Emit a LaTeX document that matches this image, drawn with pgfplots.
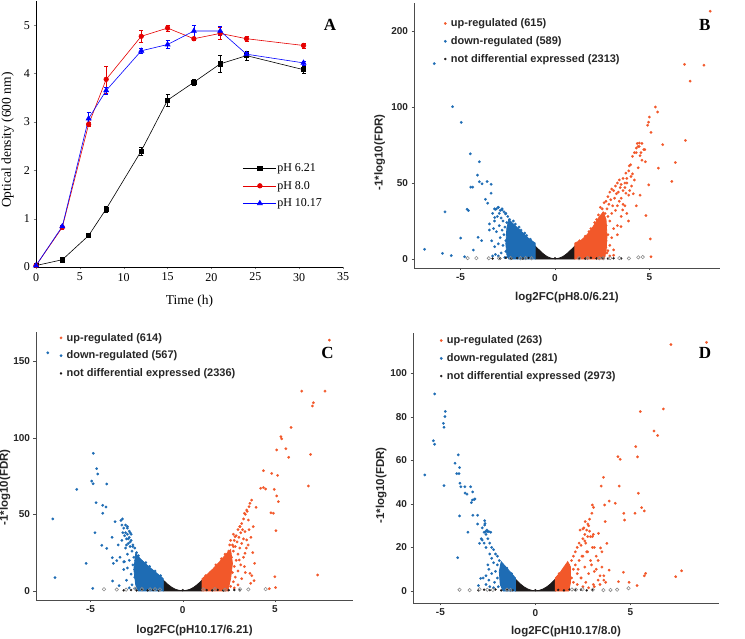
\documentclass[border=0pt]{standalone}
\usepackage{fontspec}
\setmainfont{Liberation Serif}
\newfontfamily\nsb{Liberation Sans}
\usepackage{pgfplots}
\pgfplotsset{compat=1.18}
\definecolor{upc}{RGB}{242,88,42}
\definecolor{dnc}{RGB}{30,108,180}
\definecolor{nsc}{RGB}{28,24,24}
\definecolor{grc}{RGB}{140,140,140}
\newcommand{\vt}{\nsb\bfseries\fontsize{10}{11}\selectfont}
\newcommand{\vl}{\nsb\bfseries\fontsize{11.5}{12}\selectfont}
\newcommand{\vg}{\nsb\bfseries\fontsize{11}{12}\selectfont}
\pgfplotsset{
 volc/.style={scale only axis, axis x line*=bottom, axis y line*=left,
  axis line style={draw=black!70, line width=0.8pt}, tick style={draw=black!70},
  tick align=outside, major tick length=2.5pt, xtick={-5,0,5},
  tick label style={font=\vt, text=black!85},
  label style={font=\vl, text=black!85},
  /pgf/number format/assume math mode=true,
  legend style={draw=none, fill=none, font=\vg, text=black!85, anchor=north west,
   inner sep=0pt, row sep=6.3pt, nodes={inner sep=1pt, font=\vg}},
  legend image code/.code={\path (0cm,0cm) (0.26cm,0cm); \draw[#1] plot coordinates {(0.1cm,0cm)};},
  legend cell align=left},
 up/.style={upc, only marks, mark=*, mark size=1.3pt, line width=0.2pt},
 dn/.style={dnc, only marks, mark=*, mark size=1.3pt, line width=0.2pt},
 ns/.style={nsc, only marks, mark=*, mark size=1.1pt, line width=0.2pt},
 gr/.style={grc, only marks, mark=o, mark size=1.7pt, line width=0.6pt, forget plot},
 core/.style={draw=#1, fill=#1, line width=0.8pt, forget plot},
}
\begin{document}
\begin{tikzpicture}
\path[use as bounding box] (0pt,0pt) rectangle (745pt,639pt);
% ---------------- Panel A ----------------
\begin{axis}[at={(36pt,372pt)}, anchor=south west, scale only axis, width=307pt, height=266pt,
  xmin=0, xmax=35, ymin=0, ymax=5.5, xtick={0,5,...,35}, ytick={0,1,...,5},
  axis x line*=bottom, axis y line*=left, axis line style={line width=0.7pt},
  tick align=outside, major tick length=2.5pt,
  tick label style={font=\fontsize{12}{12}\selectfont},
  /pgf/number format/assume math mode=true,
  xlabel={Time (h)}, ylabel={Optical density (600 nm)},
  label style={font=\fontsize{13.5}{14}\selectfont},
  xlabel style={at={(axis description cs:0.5,-0.128)}, anchor=center},
  ylabel style={at={(axis description cs:-0.092,0.477)}, anchor=center},
  legend style={draw=none, fill=none, at={(0.672,0.395)}, anchor=north west,
    font=\fontsize{12}{12}\selectfont, row sep=5pt, inner sep=0pt, nodes={inner sep=1.5pt}},
  legend cell align=left,
  legend image code/.code={\draw[#1, mark repeat=2, mark phase=2] plot coordinates {(0cm,0cm) (0.6cm,0cm) (1.15cm,0cm)};},
  error bars/error bar style={line width=0.5pt},
  error bars/error mark options={rotate=90, mark size=2pt, line width=0.5pt}]
\addplot[black, line width=0.6pt, mark=square*, mark size=2.1pt,
  error bars/.cd, y dir=both, y explicit] coordinates {
 (0,0.03) +- (0,0.01) (3,0.15) +- (0,0.02) (6,0.65) +- (0,0.03) (8,1.20) +- (0,0.06)
 (12,2.40) +- (0,0.08) (15,3.45) +- (0,0.13) (18,3.82) +- (0,0.06) (21,4.20) +- (0,0.18)
 (24,4.37) +- (0,0.10) (30.5,4.08) +- (0,0.07)};
\addlegendentry{pH 6.21}
\addplot[red!90!black, line width=0.6pt, mark=*, mark size=2.3pt,
  error bars/.cd, y dir=both, y explicit] coordinates {
 (0,0.03) +- (0,0.01) (3,0.82) +- (0,0.03) (6,2.95) +- (0,0.05) (8,3.88) +- (0,0.28)
 (12,4.77) +- (0,0.12) (15,4.94) +- (0,0.06) (18,4.72) +- (0,0.04) (21,4.83) +- (0,0.13)
 (24,4.72) +- (0,0.06) (30.5,4.58) +- (0,0.05)};
\addlegendentry{pH 8.0}
\addplot[blue, line width=0.6pt, mark=triangle*, mark size=2.9pt,
  error bars/.cd, y dir=both, y explicit] coordinates {
 (0,0.03) +- (0,0.01) (3,0.84) +- (0,0.03) (6,3.07) +- (0,0.12) (8,3.65) +- (0,0.07)
 (12,4.47) +- (0,0.06) (15,4.60) +- (0,0.08) (18,4.88) +- (0,0.12) (21,4.88) +- (0,0.09)
 (24,4.40) +- (0,0.05) (30.5,4.22) +- (0,0.04)};
\addlegendentry{pH 10.17}
\node[font=\bfseries\fontsize{17}{17}\selectfont] at (rel axis cs:0.958,0.91) {A};
\end{axis}
% ---------------- Panel B ----------------
\begin{axis}[volc, at={(414pt,371pt)}, anchor=south west, width=306pt, height=265pt,
  xmin=-7.46, xmax=8.73, ymin=-5.9, ymax=236.8,
  y coord trafo/.code={\pgfmathparse{#1>100 ? 100+(#1-100)/2 : #1}},
  ytick={0,50,100,200}, yticklabels={0,50,100,200},
  xlabel={log2FC(pH8.0/6.21)}, ylabel={-1*log10(FDR)},
  xlabel style={at={(axis description cs:0.5,-0.113)}, anchor=center},
  ylabel style={at={(axis description cs:-0.112,0.436)}, anchor=center},
  legend style={at={(0.092,0.945)}}]
\addplot[core=nsc] coordinates {(-1.05,0)(-1.05,8.5)(-0.8,5.5)(-0.6,3.2)(-0.4,1.5)(-0.2,0.5)(0,0.2)(0.2,0.5)(0.4,1.5)(0.6,3.2)(0.8,5.5)(1.05,8.5)(1.05,0)} -- cycle;
\addplot[core=dnc] coordinates {(-1.05,0)(-1.05,10.5)(-1.4,13.5)(-1.85,19)(-2.2,23)(-2.45,26)(-2.55,20)(-2.6,10)(-2.55,3)(-2.45,0)} -- cycle;
\addplot[core=upc] coordinates {(1.05,0)(1.05,10.5)(1.4,12.5)(1.7,16)(2.0,21)(2.3,27)(2.55,31)(2.7,26)(2.75,15)(2.7,5)(2.6,0)} -- cycle;
\addplot[up] coordinates {
 (8.21,226)(6.85,156)(7.88,155)(7.15,134)(5.31,100)(5.43,96.7)(4.99,93.4)(4.95,90)(4.9,88)
 (5.08,83.3)(5.7,75.2)(6.9,78)(4.46,76.3)(4.6,76)(4.4,74)(4.75,72)(4.55,70)(4.3,70)(4.1,67.5)
 (3.93,61.3)(4.78,64)(5.47,59.8)(6.37,63.5)(6.18,51)(4.96,48.8)(3.75,56.5)(4.02,54.3)
 (3.75,43.3)(4.14,42.9)(3.89,25)(3.58,32.3)(3.49,21.3)(4.81,28.6)(5.04,13.2)(5.08,1.5)
 (2.69,7.7)(2.8,5.5)
 (3.9,58)(4.0,62)(4.1,56)(4.2,70)(4.3,73)(4.35,76)(4.45,74)(4.5,68)(4.6,65)(4.7,72)
 (4.4,60)(3.8,53)(3.7,50)(4.05,48)(4.2,52)(3.95,45)(4.3,35)(4.5,42)(3.6,36)(3.8,30)
 (2.4,34)(2.6,37)(2.7,38)(2.8,41)(2.9,44)(3.0,46)(3.1,45)(3.2,48)(3.3,50)(3.4,52)(3.5,49)
 (3.6,53)(2.65,30)(2.75,33)(2.85,36)(2.95,39)(3.05,35)(3.15,40)(3.25,43)(3.35,44)(3.45,47)
 (2.7,22)(2.8,28)(2.9,25)(3.0,30)(3.1,20)(3.2,32)(3.3,35)(3.4,38)(3.5,40)(2.7,12)(2.8,16)
 (2.9,9)(3.0,14)(3.1,6)(3.3,22)(3.5,28)(3.6,45)(3.7,47)(3.8,50)(2.65,8)(2.75,4)(2.9,2)
 (3.1,2.5)(2.6,2)(3.3,16)(3.7,35)(3.9,42)(2.3,29)(2.1,24)(1.9,20)(1.6,15)(1.3,12)(2.5,33)
 (2.55,20)(2.45,28)(2.65,14)(2.2,26)(1.8,18)};
\addlegendentry{\vg up-regulated (615)}
\addplot[dn] coordinates {
 (-6.39,157)(-5.42,100.4)(-4.96,89.9)(-4.48,69.2)(-4.0,64)(-4.1,55.2)(-4.0,50.8)(-3.86,49.5)
 (-3.59,51)(-3.38,49.2)(-3.38,43.3)(-3.68,39.3)(-3.56,36.7)(-4.46,47.3)(-4.35,47.3)
 (-4.65,32.7)(-4.58,31.9)(-5.82,31)(-4.99,13.8)(-4.07,14.3)(-3.88,12.1)(-3.47,23.1)
 (-3.47,19.1)(-4.32,5.9)(-4.78,1.5)(-5.49,2.2)(-5.95,3.7)(-6.9,6.4)(-3.19,8.1)(-3.15,32.7)
 (-3.0,34)(-3.19,27.3)(-2.62,29.7)(-2.8,32.3)
 (-2.4,26)(-2.5,28)(-2.6,30)(-2.7,31)(-2.8,33)(-2.9,32)(-3.0,34)(-3.1,33)(-2.55,24)
 (-2.65,21)(-2.75,25)(-2.85,27)(-2.95,22)(-3.05,28)(-2.45,18)(-2.6,12)(-2.7,16)(-2.8,19)
 (-2.9,14)(-3.0,10)(-3.1,18)(-3.2,25)(-2.5,8)(-2.6,5)(-2.75,9)(-2.85,4)(-3.0,2)(-3.15,3)
 (-3.3,2)(-2.4,2)(-2.5,1.5)(-2.65,1)(-2.3,12)(-2.2,25)(-2.1,23)(-1.9,21)(-1.6,17)
 (-2.35,20)(-3.3,30)(-3.25,20)(-3.35,12)(-2.95,30)(-2.2,14)(-2.45,4)(-3.2,33)(-1.3,13)
 (-1.5,15.5)(-1.8,19)};
\addlegendentry{\vg down-regulated (589)}
\addplot[ns] coordinates {
 (-3.3,0.3)(-2.9,0.4)(-2.6,0.8)(-2.3,0.3)(-2.0,0.6)(-1.7,0.3)(-1.4,0.7)(1.3,0.5)(1.6,0.3)
 (1.9,0.8)(2.2,0.4)(2.5,0.6)(2.8,0.3)(3.1,0.5)(3.5,0.4)(0,0.5)};
\addlegendentry{\vg not differential expressed (2313)}
\addplot[gr] coordinates {
 (-4.62,0.6)(-4.16,0.6)(-3.5,0.5)(-2.96,0.5)(-2.35,0.6)(-1.82,0.5)(-1.56,0.6)(-1.24,0.5)
 (1.27,0.5)(1.72,0.6)(2.34,0.5)(2.55,0.5)(2.92,0.6)(3.4,0.6)(3.91,0.4)(4.41,1.1)(4.64,1.3)};
\node[font=\bfseries\fontsize{17}{17}\selectfont] at (rel axis cs:0.95,0.917) {B};
\end{axis}
% ---------------- Panel C ----------------
\begin{axis}[volc, at={(36pt,39pt)}, anchor=south west, width=317pt, height=268pt,
  xmin=-7.96, xmax=9.24, ymin=-5.9, ymax=169, ytick={0,50,100,150},
  xlabel={log2FC(pH10.17/6.21)}, ylabel={-1*log10(FDR)},
  xlabel style={at={(axis description cs:0.5,-0.115)}, anchor=center},
  ylabel style={at={(axis description cs:-0.098,0.42)}, anchor=center},
  legend style={at={(0.069,1.0)}}]
\addplot[core=nsc] coordinates {(-1.05,0)(-1.05,7)(-0.8,4.2)(-0.6,2.4)(-0.4,1.1)(-0.2,0.4)(0,0.2)(0.2,0.4)(0.4,1.1)(0.6,2.4)(0.8,4.2)(1.05,7)(1.05,0)} -- cycle;
\addplot[core=dnc] coordinates {(-1.05,0)(-1.05,8)(-1.3,10.5)(-1.6,13.5)(-1.95,17)(-2.3,21)(-2.55,24.5)(-2.65,14)(-2.55,4)(-2.4,0)} -- cycle;
\addplot[core=upc] coordinates {(1.05,0)(1.05,8)(1.35,11)(1.65,14.5)(2.0,19)(2.35,24)(2.6,27)(2.7,18)(2.6,8)(2.45,0)} -- cycle;
\addplot[up] coordinates {
 (7.96,163.7)(6.46,130.4)(7.72,130.4)(7.09,122.8)(7.04,120.7)(5.88,106.7)(5.33,100.7)
 (5.37,99.3)(5.1,92)(5.6,92.8)(5.75,87.2)(6.94,89.1)(4.38,78.5)(4.83,76.7)(5.15,75.4)
 (4.23,67)(4.38,67.5)(4.5,66.5)(4.97,66.3)(6.82,68.5)(5.1,62)(5.19,58.3)(4.79,51)(4.92,50.7)
 (5.06,39.3)(7.32,10.4)(5.0,9.3)(5.04,2.2)(4.7,1.5)
 (3.74,59.3)(3.65,57.2)(3.98,54.6)(3.47,52.8)(3.35,50.7)(3.56,46.3)(3.11,42)(3.38,38.7)
 (2.84,35.4)(3.47,33.3)(3.83,42)(2.75,28.9)(3.38,24.6)(3.07,20.2)(3.65,11.5)(3.35,15.9)
 (3.69,5)(3.87,6.7)
 (2.7,30)(2.8,33)(2.9,36)(3.0,40)(3.1,42)(3.2,44)(3.3,47)(3.4,50)(3.5,52)(3.6,55)(2.65,22)
 (2.75,26)(2.85,29)(2.95,32)(3.05,35)(3.15,38)(3.25,40)(2.7,12)(2.8,16)(2.9,20)(3.0,24)
 (3.1,28)(3.2,31)(3.3,34)(2.75,6)(2.85,9)(3.0,13)(3.15,17)(3.3,22)(3.45,28)(2.6,3)(2.8,2)
 (3.0,4)(3.2,8)(3.4,12)(2.5,26)(2.3,24)(2.1,21)(1.8,17)(1.5,12)(1.25,10)(3.6,40)(3.7,35)
 (3.55,30)(3.8,25)(3.9,18)(3.75,10)(2.55,30)(2.45,20)(2.75,37)(2.6,33)};
\addlegendentry{\vg up-regulated (614)}
\addplot[dn] coordinates {
 (-7.32,155.4)(-7.05,47)(-6.93,8.7)(-5.75,66.3)(-5.24,18)(-4.85,89.8)(-4.67,79.8)(-4.61,76.3)
 (-4.94,71.7)(-4.86,70)(-4.12,69.8)(-4.7,57.6)(-4.34,55.9)(-4.16,54.8)(-4.34,50.7)(-4.76,38)
 (-4.39,29.8)(-4.12,27.8)(-4.88,1.7)(-3.67,45.2)(-3.83,35)(-3.82,21.7)(-3.76,18)(-3.58,19.8)
 (-3.16,19.1)(-3.8,6.5)(-3.45,3.5)(-3.27,47)(-3.1,43)(-3.0,41)(-2.9,39)(-2.8,37)(-3.1,38)
 (-2.95,34)(-2.85,32)(-3.05,30)(-2.71,28.9)
 (-2.5,25)(-2.6,28)(-2.7,30)(-2.8,33)(-2.9,35)(-3.0,37)(-3.2,41)(-3.3,43)(-3.35,46)
 (-2.55,20)(-2.65,22)(-2.75,26)(-2.85,29)(-2.95,31)(-3.05,34)(-3.15,36)(-3.25,38)(-2.6,14)
 (-2.7,17)(-2.8,11)(-2.9,20)(-3.0,24)(-3.1,28)(-3.2,19)(-2.5,6)(-2.6,9)(-2.75,4)(-2.9,2)
 (-3.05,7)(-3.2,14)(-3.4,22)(-3.5,30)(-2.4,2)(-2.55,1.5)(-2.2,19)(-2.0,18.5)(-1.8,16)
 (-1.5,13)(-1.2,10)(-2.35,11)(-2.45,17)(-3.0,15)(-3.3,33)(-2.85,38)(-3.0,42)(-2.4,23)};
\addlegendentry{\vg down-regulated (567)}
\addplot[ns] coordinates {
 (-3.2,0.4)(-2.8,0.6)(-2.5,0.3)(-2.2,0.7)(-1.9,0.4)(-1.6,0.6)(-1.3,0.3)(1.3,0.6)(1.6,0.4)
 (1.9,0.7)(2.2,0.3)(2.5,0.5)(2.8,0.6)(3.1,0.4)(0,0.5)};
\addlegendentry{\vg not differential expressed (2336)}
\addplot[gr] coordinates {
 (-4.27,1.1)(-3.58,0.9)(-3.07,0.8)(-2.59,1.6)(-2.22,1.2)(-1.77,1.0)(-1.5,1.1)(-1.23,1.0)
 (1.12,1.0)(1.75,1.2)(2.3,0.8)(3.11,1.1)(3.56,1.0)(4.5,1.2)};
\node[font=\bfseries\fontsize{17}{17}\selectfont] at (rel axis cs:0.92,0.92) {C};
\end{axis}
% ---------------- Panel D ----------------
\begin{axis}[volc, at={(413pt,36pt)}, anchor=south west, width=306pt, height=270pt,
  xmin=-6.44, xmax=9.66, ymin=-5.5, ymax=118.5, ytick={0,20,...,100},
  xlabel={log2FC(pH10.17/8.0)}, ylabel={-1*log10(FDR)},
  xlabel style={at={(axis description cs:0.5,-0.106)}, anchor=center},
  ylabel style={at={(axis description cs:-0.104,0.435)}, anchor=center},
  legend style={at={(0.082,0.994)}}]
\addplot[core=nsc] coordinates {(-1.05,0)(-1.05,5.5)(-0.8,3.3)(-0.6,1.9)(-0.4,0.9)(-0.2,0.3)(0,0.1)(0.2,0.3)(0.4,0.9)(0.6,1.9)(0.8,3.3)(1.05,5.5)(1.05,0)} -- cycle;
\addplot[core=dnc] coordinates {(-1.05,0)(-1.05,6)(-1.3,8.5)(-1.55,11)(-1.8,13.5)(-1.9,9)(-1.85,3)(-1.7,0)} -- cycle;
\addplot[core=upc] coordinates {(1.05,0)(1.05,6)(1.3,8.5)(1.5,11)(1.7,13.5)(1.85,11)(1.85,4)(1.75,0)} -- cycle;
\addplot[up] coordinates {
 (9.0,114.2)(7.13,113.2)(6.73,83.6)(5.52,82.4)(6.24,73.5)(6.43,71.4)(5.28,66.3)(4.34,61.7)
 (4.46,60.5)(5.37,61.6)(3.58,52.2)(3.46,48.2)(4.41,48.2)(5.42,44.9)(3.88,41.3)(3.64,39.5)
 (4.2,40.3)(3.0,39.5)(3.06,38.4)(2.97,35.7)(5.59,38.3)(5.73,36.8)(5.24,35.7)(4.65,35.7)
 (4.69,32.6)(3.67,31.9)(2.62,31.9)(2.76,30.8)(3.32,26.5)(3.43,19.8)(3.76,21.9)(4.63,8.6)
 (3.88,9.6)(4.37,4.3)(5.35,2.5)(5.73,7)(5.8,8.1)(7.38,6.6)(7.69,9.3)(4.93,4)
 (2.7,28)(2.85,27.5)(2.5,28.5)(2.9,25)(3.05,26)(2.6,23)(3.1,20)(2.45,16)(2.95,12)(2.75,18)
 (3.2,10)(3.4,7)(3.6,5)(3.05,3)(2.65,4)(2.4,6)(3.3,14)(3.5,18)(2.25,10)
 (1.9,14)(2.0,16)(2.1,18)(2.2,20)(2.3,22)(2.4,21)(2.5,24)(2.6,26)(2.8,30)(3.0,25)(2.0,10)
 (2.1,12)(2.2,8)(2.3,14)(2.4,6)(2.5,16)(2.6,11)(2.7,18)(2.8,8)(2.9,14)(3.0,20)(3.1,9)
 (3.2,16)(3.3,5)(3.5,11)(3.6,7)(2.0,4)(2.2,3)(2.5,2)(2.8,1.5)(3.1,2)(3.4,3)(3.7,4)(1.9,6)
 (2.35,28)(2.55,29)(2.65,22)(2.75,25)(2.85,33)(1.75,12)(1.5,10)(1.25,8)};
\addlegendentry{\vg up-regulated (263)}
\addplot[dn] coordinates {
 (-5.3,90.5)(-4.74,82.5)(-4.76,80.1)(-4.84,77)(-4.81,75.2)(-5.37,69)(-5.3,67.4)(-5.82,53.3)
 (-4.81,48.4)(-4.23,58.7)(-4.06,62.5)(-3.99,56.7)(-4.14,53.9)(-4.02,53.9)(-3.97,49.5)
 (-3.92,47.9)(-3.71,47.9)(-3.41,47.9)(-3.99,34.5)(-4.09,15.3)(-3.55,27)(-3.7,45)(-3.6,44.5)
 (-3.3,45.5)(-3.32,41.8)(-3.37,40.6)(-3.18,42.3)(-3.22,42)(-3.29,34.8)(-3.04,34.8)
 (-3.04,30.8)(-2.67,32.3)(-2.67,30.3)(-2.62,27.3)(-2.53,27.3)(-2.45,27.3)(-2.94,21.9)
 (-2.8,23.4)(-2.88,5.8)(-3.0,2.5)
 (-1.9,14)(-2.0,16)(-2.1,17)(-2.2,19)(-2.3,20)(-2.4,22)(-2.5,24)(-2.6,26)(-2.7,27)(-2.8,29)
 (-2.0,12)(-2.1,9)(-2.2,13)(-2.3,15)(-2.4,17)(-2.5,12)(-2.6,20)(-2.7,22)(-2.0,6)(-2.15,4)
 (-2.3,8)(-2.45,5)(-2.6,3)(-2.75,6)(-1.95,2)(-2.2,1.5)(-2.4,2)(-2.85,24)(-2.55,28)
 (-2.65,31)(-2.35,27)(-1.75,12)(-1.5,10.5)(-1.25,8)(-2.6,7)(-2.45,10)};
\addlegendentry{\vg down-regulated (281)}
\addplot[ns] coordinates {
 (-3.0,0.3)(-2.7,0.6)(-2.4,0.4)(-2.1,0.7)(-1.8,0.3)(-1.5,0.6)(-1.2,0.4)(1.2,0.5)(1.5,0.3)
 (1.8,0.7)(2.1,0.4)(2.4,0.6)(2.7,0.3)(3.0,0.5)(0,0.4)};
\addlegendentry{\vg not differential expressed (2973)}
\addplot[gr] coordinates {
 (-3.99,0.6)(-3.46,0.4)(-2.94,0.8)(-2.53,0.6)(-2.24,0.5)(-1.49,0.6)(-1.31,0.5)(1.92,0.7)
 (2.13,0.6)(2.48,0.8)(3.02,0.6)(3.58,0.4)(3.95,0.5)(4.3,0.6)(4.9,1.3)};
\node[font=\bfseries\fontsize{17}{17}\selectfont] at (rel axis cs:0.954,0.926) {D};
\end{axis}
\end{tikzpicture}
\end{document}
